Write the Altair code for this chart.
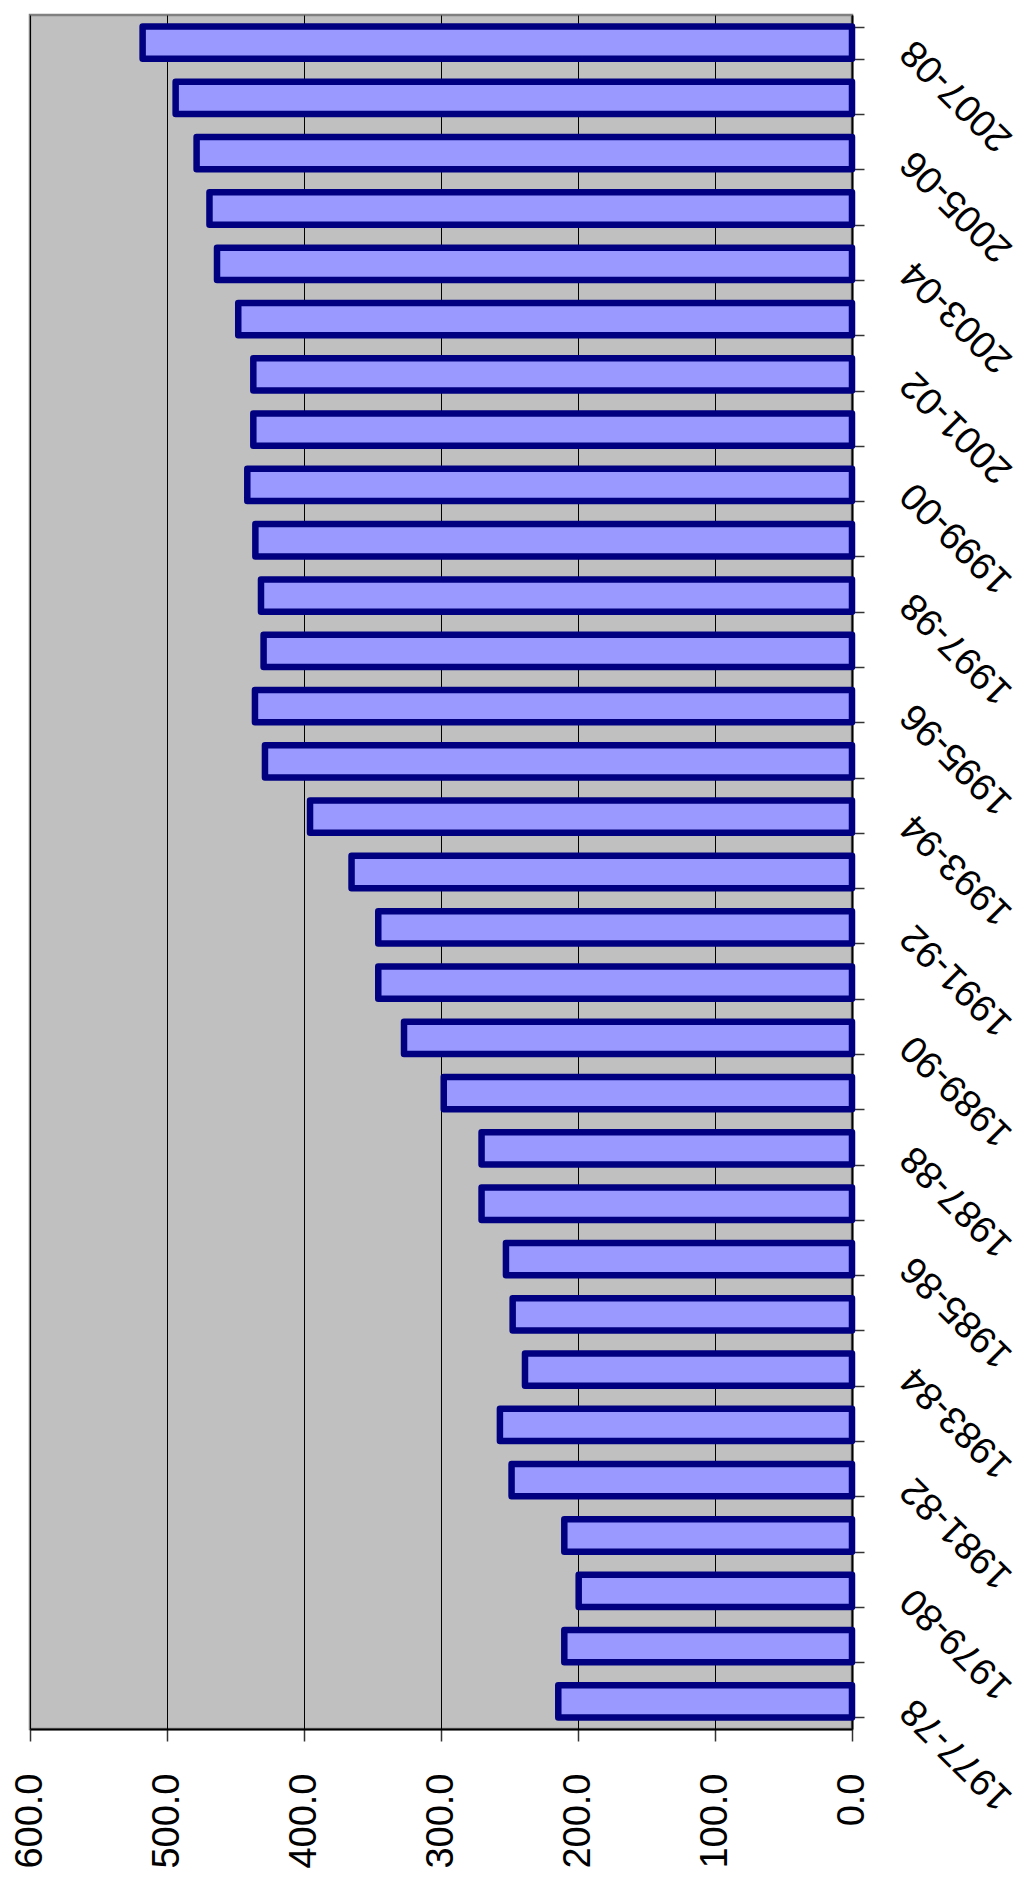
import altair as alt
import pandas as pd

years = [
    "1977-78", "1978-79", "1979-80", "1980-81", "1981-82", "1982-83",
    "1983-84", "1984-85", "1985-86", "1986-87", "1987-88", "1988-89",
    "1989-90", "1990-91", "1991-92", "1992-93", "1993-94", "1994-95",
    "1995-96", "1996-97", "1997-98", "1998-99", "1999-00", "2000-01",
    "2001-02", "2002-03", "2003-04", "2004-05", "2005-06", "2006-07",
    "2007-08",
]
values = [
    214.4, 210.0, 199.5, 210.0, 248.5, 257.0,
    238.7, 247.7, 252.6, 270.4, 270.4, 298.0,
    327.0, 345.8, 345.8, 365.3, 395.6, 428.5,
    435.8, 429.5, 431.4, 435.5, 441.4, 437.0,
    437.0, 448.0, 463.5, 469.0, 478.4, 493.7,
    517.8,
]
value_ticks = [0, 100, 200, 300, 400, 500, 600]

df = pd.DataFrame({"year": years, "value": values})

FONT = "Liberation Sans"

chart = (
    alt.Chart(df)
    .mark_bar(fill="#9999FF", stroke="#000080", strokeWidth=6.5, strokeJoin="round")
    .encode(
        x=alt.X(
            "value:Q",
            scale=alt.Scale(domain=[0, 600], reverse=True, nice=False, zero=True),
            axis=alt.Axis(
                values=value_ticks,
                format=".1f",
                title=None,
                orient="bottom",
                labelAngle=270,
                labelAlign="right",
                labelBaseline="middle",
                labelFontSize=38,
                labelFont=FONT,
                labelColor="#000000",
                labelPadding=32,
                tickSize=12,
                tickColor="#333333",
                tickWidth=1.5,
                domainColor="#000000",
                domainWidth=2,
                grid=True,
                gridColor="#000000",
                gridWidth=1,
                labelOverlap=False,
            ),
        ),
        y=alt.Y(
            "year:N",
            sort="descending",
            scale=alt.Scale(paddingInner=0.416, paddingOuter=0.208),
            axis=alt.Axis(
                title=None,
                orient="right",
                tickBand="extent",
                labelExpr="toNumber(substring(datum.value,0,4)) % 2 == 1 ? datum.value : ''",
                labelAngle=225,
                labelAlign="right",
                labelBaseline="alphabetic",
                labelFontSize=38,
                labelFont=FONT,
                labelColor="#000000",
                labelPadding=51,
                labelOffset=-5,
                labelOverlap=False,
                tickSize=12,
                tickColor="#333333",
                tickWidth=1.5,
                domainColor="#000000",
                domainWidth=2,
                grid=False,
            ),
        ),
    )
    .properties(
        width=822,
        height=1714,
        autosize=alt.AutoSizeParams(type="none"),
        padding={"left": 22, "top": 7, "right": 168, "bottom": 140},
    )
    .configure_view(fill="#C0C0C0", stroke="#808080", strokeWidth=2.5)
)

chart.save("out.html", embed_options={"renderer": "svg", "actions": False})
